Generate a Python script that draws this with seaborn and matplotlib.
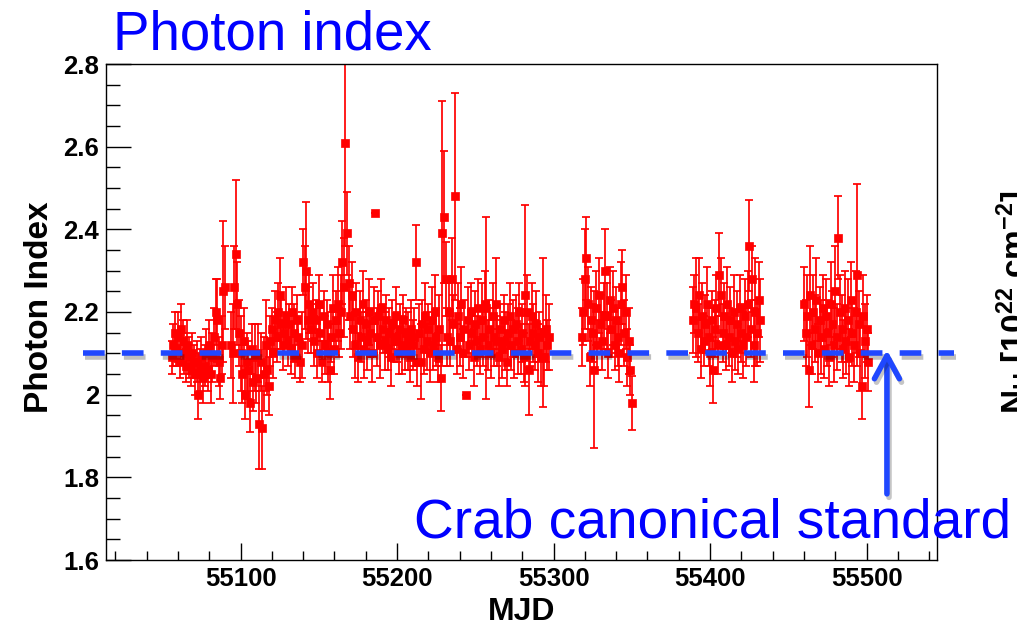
import numpy as np
import pandas as pd
import matplotlib
matplotlib.use("Agg")
import matplotlib.pyplot as plt
import matplotlib.patheffects as pe
from matplotlib.ticker import MultipleLocator, FuncFormatter
import seaborn as sns

# ---------------- data ----------------
mjd_1 = [55056, 55057, 55058, 55059, 55060, 55061, 55062, 55063, 55064, 55065,
         55066, 55067, 55068, 55069, 55070, 55071, 55072, 55073, 55074, 55075,
         55076, 55077, 55078, 55079, 55080, 55081, 55082, 55083, 55084, 55085,
         55086, 55087, 55088, 55089, 55090]
idx_1 = [2.09, 2.12, 2.15, 2.11, 2.14, 2.08, 2.16, 2.13, 2.10, 2.07,
         2.12, 2.09, 2.06, 2.10, 2.08, 2.05, 2.08, 2.00, 2.06, 2.09,
         2.04, 2.07, 2.10, 2.06, 2.12, 2.05, 2.09, 2.14, 2.20, 2.18,
         2.08, 2.04, 2.12, 2.25, 2.26]
err_1 = [0.04, 0.05, 0.05, 0.04, 0.06, 0.04, 0.06, 0.05, 0.05, 0.04,
         0.06, 0.05, 0.04, 0.05, 0.04, 0.05, 0.05, 0.06, 0.05, 0.05,
         0.06, 0.05, 0.06, 0.05, 0.06, 0.07, 0.06, 0.07, 0.08, 0.10,
         0.06, 0.05, 0.07, 0.17, 0.10]

mjd_2a = [55094, 55095, 55096, 55097, 55098, 55099, 55100, 55101, 55102, 55103,
          55104, 55105, 55106, 55107, 55108, 55109, 55110, 55111, 55112, 55113,
          55114, 55115, 55116, 55117, 55118, 55119, 55120, 55121, 55122, 55123,
          55124, 55125, 55126, 55127, 55128, 55129, 55130, 55131, 55132, 55133,
          55134, 55135, 55136, 55137, 55138, 55139, 55140, 55141, 55142, 55143,
          55144, 55145, 55146, 55147, 55148, 55149, 55150, 55151, 55152, 55153,
          55154, 55155, 55156, 55157, 55158, 55159, 55160, 55161, 55162, 55163,
          55164, 55165, 55166, 55167, 55168, 55169, 55170, 55171, 55172, 55173,
          55174, 55175, 55176, 55177, 55178, 55179, 55180, 55181, 55182, 55183,
          55184, 55185, 55186, 55187, 55188, 55189, 55190]
idx_2a = [2.12, 2.10, 2.26, 2.34, 2.22, 2.15, 2.10, 2.05, 2.13, 2.00,
          2.08, 2.06, 1.98, 2.11, 2.03, 2.09, 2.04, 2.10, 1.93, 2.08,
          1.92, 2.05, 2.12, 2.06, 2.02, 2.13, 2.16, 2.10, 2.18, 2.14,
          2.20, 2.24, 2.17, 2.12, 2.15, 2.19, 2.13, 2.17, 2.11, 2.20,
          2.15, 2.09, 2.18, 2.14, 2.08, 2.12, 2.32, 2.26, 2.30, 2.18,
          2.22, 2.16, 2.20, 2.13, 2.18, 2.10, 2.22, 2.15, 2.08, 2.19,
          2.12, 2.17, 2.10, 2.06, 2.14, 2.21, 2.11, 2.18, 2.22, 2.15,
          2.20, 2.32, 2.26, 2.61, 2.39, 2.27, 2.19, 2.24, 2.16, 2.12,
          2.20, 2.09, 2.18, 2.14, 2.22, 2.11, 2.17, 2.13, 2.20, 2.15,
          2.10, 2.18, 2.44, 2.14, 2.19, 2.12, 2.21]
err_2a = [0.08, 0.12, 0.10, 0.18, 0.10, 0.08, 0.09, 0.07, 0.08, 0.06,
          0.07, 0.07, 0.07, 0.06, 0.07, 0.08, 0.06, 0.07, 0.11, 0.07,
          0.10, 0.09, 0.11, 0.06, 0.07, 0.06, 0.05, 0.06, 0.07, 0.06,
          0.07, 0.09, 0.06, 0.06, 0.05, 0.07, 0.06, 0.05, 0.06, 0.06,
          0.07, 0.05, 0.06, 0.05, 0.05, 0.08, 0.08, 0.10, 0.165, 0.08,
          0.07, 0.06, 0.07, 0.06, 0.05, 0.06, 0.07, 0.06, 0.05, 0.06,
          0.07, 0.06, 0.07, 0.07, 0.06, 0.08, 0.06, 0.07, 0.09, 0.06,
          0.09, 0.10, 0.12, 0.25, 0.10, 0.09, 0.08, 0.08, 0.07, 0.08,
          0.07, 0.06, 0.07, 0.06, 0.08, 0.07, 0.06, 0.07, 0.08, 0.06,
          0.07, 0.08, 0.0, 0.07, 0.06, 0.08, 0.07]

mjd_2b = [55191, 55192, 55193, 55194, 55195, 55196, 55197, 55198, 55199, 55200,
          55201, 55202, 55203, 55204, 55205, 55206, 55207, 55208, 55209, 55210,
          55211, 55212, 55213, 55214, 55215, 55216, 55217, 55218, 55219, 55220,
          55221, 55222, 55223, 55224, 55225, 55226, 55227, 55228, 55229, 55230,
          55231, 55232, 55233, 55234, 55235, 55236, 55237, 55238, 55239, 55240,
          55241, 55242, 55243, 55244, 55245, 55246, 55247, 55248, 55249, 55250,
          55251, 55252, 55253, 55254, 55255, 55256, 55257, 55258, 55259, 55260,
          55261, 55262, 55263, 55264, 55265, 55266, 55267, 55268, 55269, 55270,
          55271, 55272, 55273, 55274, 55275, 55276, 55277, 55278, 55279, 55280,
          55281, 55282, 55283, 55284, 55285, 55286, 55287, 55288, 55289, 55290,
          55291, 55292, 55293, 55294, 55295, 55296, 55297]
idx_2b = [2.16, 2.13, 2.18, 2.11, 2.15, 2.09, 2.17, 2.13, 2.19, 2.14,
          2.10, 2.16, 2.12, 2.18, 2.11, 2.15, 2.13, 2.09, 2.16, 2.12,
          2.14, 2.32, 2.08, 2.15, 2.08, 2.17, 2.11, 2.19, 2.13, 2.16,
          2.10, 2.18, 2.12, 2.20, 2.14, 2.09, 2.16, 2.04, 2.39, 2.43,
          2.28, 2.14, 2.20, 2.13, 2.28, 2.17, 2.48, 2.11, 2.19, 2.14,
          2.22, 2.10, 2.16, 2.00, 2.18, 2.12, 2.20, 2.15, 2.09, 2.17,
          2.13, 2.21, 2.11, 2.18, 2.14, 2.22, 2.21, 2.12, 2.16, 2.10,
          2.19, 2.14, 2.22, 2.13, 2.09, 2.16, 2.11, 2.18, 2.13, 2.08,
          2.15, 2.19, 2.12, 2.16, 2.10, 2.17, 2.13, 2.20, 2.11, 2.15,
          2.09, 2.24, 2.20, 2.06, 2.13, 2.19, 2.15, 2.12, 2.17, 2.10,
          2.14, 2.09, 2.15, 2.09, 2.16, 2.12, 2.14]
err_2b = [0.06, 0.07, 0.06, 0.05, 0.06, 0.07, 0.06, 0.05, 0.07, 0.06,
          0.05, 0.06, 0.07, 0.06, 0.05, 0.06, 0.07, 0.06, 0.07, 0.06,
          0.07, 0.09, 0.06, 0.07, 0.09, 0.06, 0.06, 0.08, 0.07, 0.06,
          0.07, 0.08, 0.06, 0.09, 0.07, 0.06, 0.08, 0.08, 0.32, 0.16,
          0.09, 0.07, 0.08, 0.06, 0.10, 0.07, 0.25, 0.06, 0.08, 0.07,
          0.09, 0.06, 0.07, 0.0, 0.08, 0.06, 0.07, 0.06, 0.07, 0.08,
          0.06, 0.07, 0.06, 0.09, 0.07, 0.08, 0.22, 0.06, 0.07, 0.06,
          0.08, 0.07, 0.11, 0.06, 0.07, 0.06, 0.07, 0.06, 0.07, 0.06,
          0.07, 0.08, 0.06, 0.07, 0.06, 0.07, 0.08, 0.07, 0.06, 0.07,
          0.06, 0.22, 0.09, 0.11, 0.06, 0.08, 0.07, 0.06, 0.08, 0.07,
          0.06, 0.07, 0.18, 0.07, 0.08, 0.06, 0.08]

mjd_3 = [55318, 55319, 55320, 55321, 55322, 55323, 55324, 55325, 55326, 55327,
         55328, 55329, 55330, 55331, 55332, 55333, 55334, 55335, 55336, 55337,
         55338, 55339, 55340, 55341, 55342, 55343, 55344, 55345, 55346, 55347,
         55348, 55349, 55350]
idx_3 = [2.14, 2.20, 2.28, 2.33, 2.22, 2.09, 2.18, 2.15, 2.06, 2.21,
         2.12, 2.24, 2.17, 2.13, 2.19, 2.30, 2.19, 2.10, 2.23, 2.16,
         2.21, 2.12, 2.18, 2.14, 2.10, 2.22, 2.26, 2.15, 2.20, 2.09,
         2.13, 2.06, 1.98]
err_3 = [0.07, 0.08, 0.12, 0.10, 0.09, 0.07, 0.08, 0.07, 0.19, 0.09,
         0.06, 0.09, 0.07, 0.07, 0.08, 0.10, 0.08, 0.06, 0.08, 0.07,
         0.09, 0.06, 0.08, 0.07, 0.07, 0.10, 0.09, 0.08, 0.09, 0.07,
         0.08, 0.06, 0.065]

mjd_4 = [55389, 55390, 55391, 55392, 55393, 55394, 55395, 55396, 55397, 55398,
         55399, 55400, 55401, 55402, 55403, 55404, 55405, 55406, 55407, 55408,
         55409, 55410, 55411, 55412, 55413, 55414, 55415, 55416, 55417, 55418,
         55419, 55420, 55421, 55422, 55423, 55424, 55425, 55426, 55427, 55428,
         55429, 55430, 55431, 55432]
idx_4 = [2.18, 2.22, 2.21, 2.15, 2.24, 2.11, 2.19, 2.13, 2.17, 2.22,
         2.14, 2.10, 2.18, 2.06, 2.16, 2.21, 2.12, 2.29, 2.24, 2.15,
         2.19, 2.12, 2.22, 2.14, 2.18, 2.10, 2.20, 2.13, 2.17, 2.11,
         2.21, 2.15, 2.12, 2.19, 2.14, 2.22, 2.36, 2.16, 2.28, 2.12,
         2.20, 2.15, 2.23, 2.18]
err_4 = [0.08, 0.07, 0.12, 0.07, 0.09, 0.07, 0.08, 0.06, 0.07, 0.09,
         0.07, 0.08, 0.07, 0.08, 0.07, 0.08, 0.07, 0.10, 0.09, 0.07,
         0.08, 0.06, 0.09, 0.07, 0.08, 0.07, 0.09, 0.07, 0.08, 0.06,
         0.08, 0.07, 0.08, 0.09, 0.07, 0.08, 0.11, 0.07, 0.08, 0.09,
         0.13, 0.08, 0.09, 0.10]

mjd_5 = [55460, 55461, 55462, 55463, 55464, 55465, 55466, 55467, 55468, 55469,
         55470, 55471, 55472, 55473, 55474, 55475, 55476, 55477, 55478, 55479,
         55480, 55481, 55482, 55483, 55484, 55485, 55486, 55487, 55488, 55489,
         55490, 55491, 55492, 55493, 55494, 55495, 55496, 55497, 55498, 55499,
         55500, 55501]
idx_5 = [2.22, 2.15, 2.19, 2.06, 2.24, 2.12, 2.20, 2.16, 2.23, 2.10,
         2.18, 2.14, 2.21, 2.11, 2.19, 2.15, 2.09, 2.22, 2.17, 2.12,
         2.25, 2.14, 2.38, 2.20, 2.16, 2.11, 2.21, 2.13, 2.18, 2.09,
         2.23, 2.15, 2.12, 2.20, 2.29, 2.17, 2.10, 2.02, 2.19, 2.13,
         2.16, 2.08]
err_5 = [0.09, 0.08, 0.10, 0.09, 0.12, 0.07, 0.09, 0.08, 0.10, 0.07,
         0.08, 0.09, 0.08, 0.07, 0.09, 0.08, 0.07, 0.10, 0.08, 0.09,
         0.11, 0.08, 0.10, 0.09, 0.08, 0.07, 0.09, 0.08, 0.10, 0.07,
         0.09, 0.08, 0.09, 0.10, 0.22, 0.08, 0.09, 0.08, 0.10, 0.09,
         0.08, 0.07]

x_ticks = [55100, 55200, 55300, 55400, 55500]
y_ticks = [1.6, 1.8, 2.0, 2.2, 2.4, 2.6, 2.8]
crab_index = 2.1
crab_line_x = [54999, 55556]
arrow_x = 55513
arrow_y = [1.76, 2.108]

# ---------------- style ----------------
sns.set_theme(style="ticks")
plt.rcParams['font.family'] = ['Liberation Sans', 'DejaVu Sans']
plt.rcParams['mathtext.fontset'] = 'custom'
plt.rcParams['mathtext.rm'] = 'Liberation Sans:bold'
plt.rcParams['mathtext.bf'] = 'Liberation Sans:bold'
plt.rcParams['mathtext.it'] = 'Liberation Sans:bold'
plt.rcParams['mathtext.default'] = 'rm'

df = pd.DataFrame({
    'MJD': np.concatenate([mjd_1, mjd_2a, mjd_2b, mjd_3, mjd_4, mjd_5]),
    'index': np.concatenate([idx_1, idx_2a, idx_2b, idx_3, idx_4, idx_5]),
    'err': np.concatenate([err_1, err_2a, err_2b, err_3, err_4, err_5]),
})

fig = plt.figure(figsize=(10.17, 6.28), dpi=100)
fig.patch.set_facecolor('white')
ax = fig.add_axes([106 / 1017, 1 - 560 / 628, 831 / 1017, 496 / 628])
ax.set_facecolor('white')

ax.errorbar(df['MJD'], df['index'], yerr=df['err'], fmt='none', ecolor='#ff0000',
            elinewidth=1.25, capsize=3, capthick=1.25, zorder=2)
sns.scatterplot(data=df, x='MJD', y='index', marker='s', color='#ff0000',
                edgecolor='#ff0000', linewidth=0.5, s=30, ax=ax, zorder=3, legend=False)

ax.set_xlim(55014, 55545)
ax.set_ylim(1.6, 2.8)
ax.set_xticks(x_ticks)
ax.set_yticks(y_ticks)
ax.xaxis.set_minor_locator(MultipleLocator(20))
ax.yaxis.set_minor_locator(MultipleLocator(0.05))
ax.yaxis.set_major_formatter(FuncFormatter(lambda v, p: f"{v:g}"))
ax.xaxis.set_major_formatter(FuncFormatter(lambda v, p: f"{int(round(v))}"))

ax.tick_params(axis='both', which='both', direction='in', top=False, right=False,
               color='black', width=1.0)
ax.tick_params(axis='y', which='major', length=18, pad=5)
ax.tick_params(axis='y', which='minor', length=10)
ax.tick_params(axis='x', which='major', length=12.5, pad=5)
ax.tick_params(axis='x', which='minor', length=6.5)
for lab in ax.get_xticklabels() + ax.get_yticklabels():
    lab.set_fontsize(18.5)
    lab.set_fontweight('bold')
    lab.set_color('black')
for sp in ax.spines.values():
    sp.set_linewidth(1.0)
    sp.set_color('black')
    sp.set_visible(True)

ax.set_xlabel('MJD', fontsize=23, fontweight='bold', color='black')
ax.set_ylabel('Photon Index', fontsize=24, fontweight='bold', color='black')
ax.xaxis.set_label_coords(0.5, -0.075)
ax.yaxis.set_label_coords(-0.061, 0.51)

# Crab canonical reference line
shadow = [pe.SimpleLineShadow(offset=(1.5, -2.5), shadow_color='black', alpha=0.25), pe.Normal()]
ax.plot(crab_line_x, [crab_index, crab_index], color='#1f47ff', lw=4,
        linestyle=(0, (3.9, 3.1)), solid_capstyle='butt', dash_capstyle='butt',
        clip_on=False, zorder=5, path_effects=shadow)

ax.annotate('', xy=(arrow_x, arrow_y[1]), xytext=(arrow_x, arrow_y[0]),
            xycoords='data', textcoords='data', annotation_clip=False,
            arrowprops=dict(arrowstyle='->,head_length=0.55,head_width=0.3',
                            lw=4, color='#1f47ff', mutation_scale=30,
                            shrinkA=0, shrinkB=0,
                            path_effects=[pe.SimpleLineShadow(offset=(1.5, -2.5), alpha=0.25), pe.Normal()]),
            zorder=6)

fig.text(113 / 1017, 1 - 50 / 628, 'Photon index', fontsize=39.3, color='#0000ff',
         ha='left', va='baseline')
fig.text(414 / 1017, 1 - 538 / 628, 'Crab canonical standard', fontsize=39.6,
         color='#0000ff', ha='left', va='baseline', zorder=10)
fig.text(994 / 1017, 0.519, r'N$_{H}$ [10$^{22}$ cm$^{-2}$]', rotation=90,
         ha='left', va='center', fontsize=24, fontweight='bold', color='black')

fig.savefig('out.png', dpi=100)
